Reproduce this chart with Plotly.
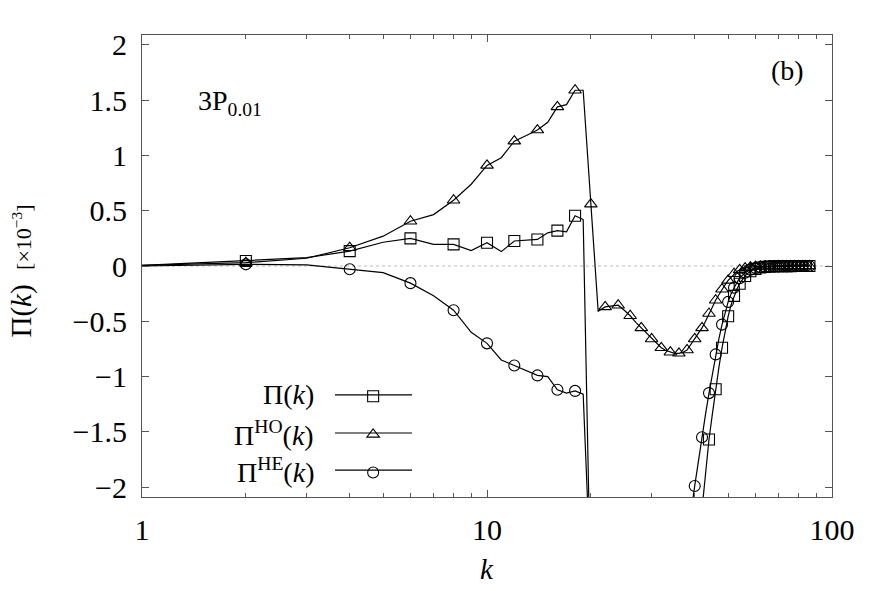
import plotly.graph_objects as go

# wavenumber k = 1..86
k = list(range(1, 87))

# Pi(k)  [x 1e-3]
pi_total = [0.005, 0.045, 0.075, 0.135, 0.215, 0.25, 0.196, 0.196, 0.14, 0.21,
            0.13, 0.226, 0.235, 0.24, 0.30, 0.32, 0.31, 0.455, 0.42, -3.04,
            -5.4, -6.4, -6.9, -7.15, -7.4, -7.45, -7.3, -7.05, -6.7, -6.25,
            -5.8, -5.35, -4.95, -4.6, -4.2, -3.85, -3.55, -3.25, -2.95, -2.65,
            -2.37, -2.2, -1.86, -1.57, -1.34, -1.115, -0.92, -0.74, -0.59, -0.455,
            -0.35, -0.27, -0.21, -0.16, -0.12, -0.09, -0.065, -0.048, -0.035, -0.026,
            -0.019, -0.014, -0.011, -0.008, -0.006, -0.005, -0.004, -0.003, -0.003, -0.002,
            -0.002, -0.002, -0.001, -0.001, -0.001, -0.001, -0.001, 0.0, 0.0, 0.0,
            0.0, 0.0, 0.0, 0.0, 0.0, 0.0]

# Pi^HO(k)
pi_ho = [0.005, 0.03, 0.07, 0.165, 0.27, 0.405, 0.465, 0.595, 0.74, 0.91,
         0.98, 1.13, 1.18, 1.23, 1.30, 1.44, 1.46, 1.59, 1.59, 0.56,
         -0.41, -0.37, -0.36, -0.355, -0.40, -0.45, -0.51, -0.56, -0.61, -0.66,
         -0.70, -0.74, -0.765, -0.78, -0.79, -0.79, -0.78, -0.76, -0.71, -0.66,
         -0.61, -0.56, -0.50, -0.43, -0.37, -0.31, -0.26, -0.21, -0.17, -0.13,
         -0.10, -0.07, -0.05, -0.035, -0.025, -0.02, -0.015, -0.01, -0.008, -0.006,
         -0.005, -0.004, -0.003, -0.002, -0.002, -0.001, -0.001, -0.001, -0.001, 0.0,
         0.0, 0.0, 0.0, 0.0, 0.0, 0.0, 0.0, 0.0, 0.0, 0.0,
         0.0, 0.0, 0.0, 0.0, 0.0, 0.0]

# Pi^HE(k)
pi_he = [0.0, 0.015, 0.01, -0.03, -0.06, -0.155, -0.27, -0.40, -0.60, -0.70,
         -0.85, -0.90, -0.945, -0.99, -1.00, -1.12, -1.15, -1.13, -1.16, -3.6,
         -5.0, -6.0, -6.5, -6.8, -7.0, -7.0, -6.8, -6.5, -6.1, -5.6,
         -5.1, -4.6, -4.2, -3.8, -3.4, -3.05, -2.75, -2.48, -2.24, -1.99,
         -1.76, -1.55, -1.34, -1.15, -0.97, -0.80, -0.66, -0.53, -0.42, -0.325,
         -0.25, -0.196, -0.15, -0.11, -0.08, -0.06, -0.045, -0.033, -0.024, -0.018,
         -0.013, -0.01, -0.008, -0.006, -0.005, -0.004, -0.003, -0.003, -0.002, -0.002,
         -0.002, -0.001, -0.001, -0.001, -0.001, -0.001, 0.0, 0.0, 0.0, 0.0,
         0.0, 0.0, 0.0, 0.0, 0.0, 0.0]

x_ticks = [1, 10, 100]
x_minor = [2, 3, 4, 5, 6, 7, 8, 9, 20, 30, 40, 50, 60, 70, 80, 90]
y_ticks = [-2, -1.5, -1, -0.5, 0, 0.5, 1, 1.5, 2]

series = [
    ("Π(<i>k</i>)", pi_total, "square-open"),
    ("Π<sup>HO</sup>(<i>k</i>)", pi_ho, "triangle-up-open"),
    ("Π<sup>HE</sup>(<i>k</i>)", pi_he, "circle-open"),
]

FONT = "Liberation Serif"
fig = go.Figure()

for name, vals, sym in series:
    fig.add_trace(go.Scatter(x=k, y=vals, mode="lines",
                             line=dict(color="black", width=1.2),
                             showlegend=False, hoverinfo="skip"))
    fig.add_trace(go.Scatter(x=k[1::2], y=vals[1::2], mode="markers",
                             marker=dict(symbol=sym, size=11, color="black",
                                         line=dict(width=1.1, color="black")),
                             showlegend=False))

# legend samples (markers only; lines drawn as shapes)
for name, vals, sym in series:
    fig.add_trace(go.Scatter(x=[None], y=[None], mode="markers", name=" ",
                             marker=dict(symbol=sym, size=11, color="black",
                                         line=dict(width=1.1, color="black")),
                             showlegend=True))

legend_rows = [0.221, 0.1385, 0.058]
shapes = [dict(type="line", xref="paper", yref="y", x0=0, x1=1, y0=0, y1=0,
               line=dict(color="#bbbbbb", width=1, dash="dot"), layer="below")]
annotations = []
for (name, vals, sym), yr in zip(series, legend_rows):
    shapes.append(dict(type="line", xref="paper", yref="paper", x0=0.2797, x1=0.3913,
                       y0=yr, y1=yr, line=dict(color="black", width=1.2)))
    annotations.append(dict(text=name, xref="paper", yref="paper", x=0.252, y=yr,
                            xanchor="right", yanchor="middle", showarrow=False,
                            font=dict(family=FONT, size=28, color="black")))

annotations += [
    dict(text="3P<sub>0.01</sub>", xref="paper", yref="paper", x=0.078, y=0.853,
         xanchor="left", yanchor="middle", showarrow=False,
         font=dict(family=FONT, size=28, color="black")),
    dict(text="(b)", xref="paper", yref="paper", x=0.935, y=0.924,
         xanchor="center", yanchor="middle", showarrow=False,
         font=dict(family=FONT, size=28, color="black")),
    dict(text="Π(<i>k</i>)  <span style='font-size:22px'>[×10<sup>−3</sup>]</span>",
         xref="paper", yref="paper", x=-0.174, y=0.49, textangle=-90,
         xanchor="center", yanchor="middle", showarrow=False,
         font=dict(family=FONT, size=29, color="black")),
    dict(text="<i>k</i>", xref="paper", yref="paper", x=0.5, y=-0.155,
         xanchor="center", yanchor="middle", showarrow=False,
         font=dict(family=FONT, size=29, color="black")),
]

fig.update_layout(
    width=886, height=591,
    margin=dict(l=142, r=54, t=35, b=94),
    paper_bgcolor="white", plot_bgcolor="white",
    font=dict(family=FONT, size=28, color="black"),
    shapes=shapes, annotations=annotations,
    legend=dict(x=0.306, y=0.27, xanchor="left", yanchor="top",
                bgcolor="rgba(0,0,0,0)", font=dict(family=FONT, size=27),
                itemwidth=30, tracegroupgap=0),
    xaxis=dict(type="log", range=[0, 2], tickvals=x_ticks, ticktext=["1", "10", "100"],
               ticks="inside", ticklen=7, tickcolor="#555", showgrid=False,
               showline=True, linecolor="#555", linewidth=1.2, mirror="allticks",
               zeroline=False, ticklabelstandoff=6,
               minor=dict(tickvals=x_minor, ticks="inside", ticklen=4, tickcolor="#555"),
               tickfont=dict(family=FONT, size=30)),
    yaxis=dict(range=[-2.09, 2.09], tickvals=y_ticks,
               ticks="inside", ticklen=7, tickcolor="#555", showgrid=False,
               showline=True, linecolor="#555", linewidth=1.2, mirror="allticks",
               zeroline=False, ticklabelstandoff=8,
               tickfont=dict(family=FONT, size=30)),
)

fig.write_html("out.html")
